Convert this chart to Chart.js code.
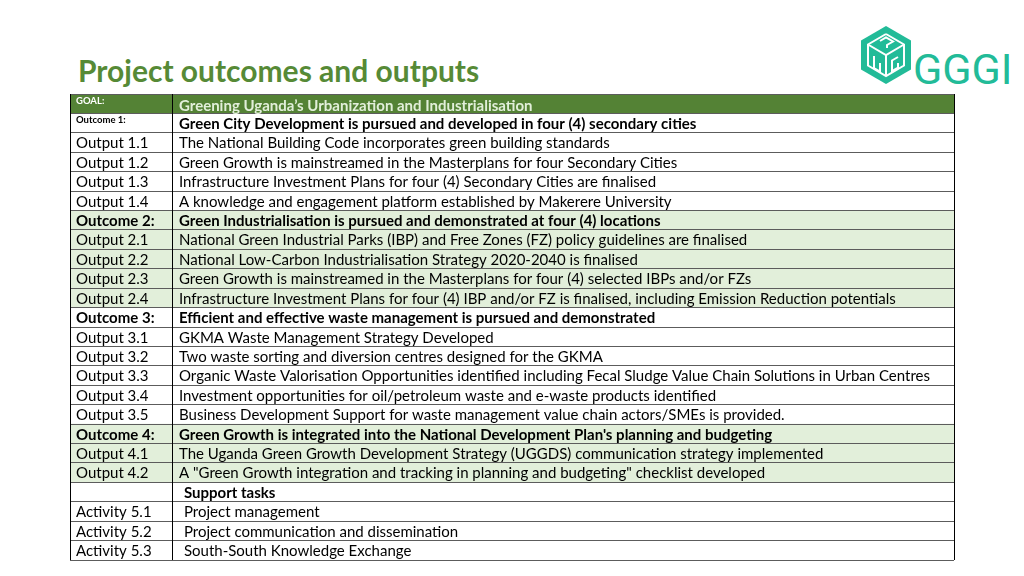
<!DOCTYPE html>
<html>
<head>
<meta charset="utf-8">
<script src="https://cdn.jsdelivr.net/npm/chart.js@4.4.1/dist/chart.umd.min.js"></script>
<style>
  html, body { margin: 0; padding: 0; background: #fff; }
  body { width: 1024px; height: 576px; position: relative; overflow: hidden; font-family: Lato, sans-serif; }
  #title { position: absolute; left: 78px; top: 52px; margin: 0; font: bold 30px Lato, sans-serif; color: #568a36; }
  #logo { position: absolute; left: 850px; top: 20px; }
  #chart { position: absolute; left: 0; top: 0; }
</style>
</head>
<body>
<h1 id="title">Project outcomes and outputs</h1>
<svg id="logo" width="174" height="80" viewBox="850 20 174 80">
  <polygon points="886,26 911,40.5 911,69.5 886,84 861,69.5 861,40.5" fill="#22bb98"/>
  <g stroke="#fff" stroke-width="2" fill="none" stroke-linejoin="miter">
    <polyline points="886,34 904,44.5 904,65.5 886,76 868,65.5 868,44.5 886,34"/>
    <polyline points="868,44.5 886,55 904,44.5"/>
    <line x1="886" y1="55" x2="886" y2="76"/>
    <polyline points="880,41 886,37.5 893,41.5 887,45 887,48"/>
    <polyline points="874,56 874,68 880,71.5 880,63"/>
    <polyline points="898,57 892,60.5 892,71 898,67.5 898,63"/>
  </g>
  <text x="913" y="84" font-family="Roboto, sans-serif" font-size="43" font-weight="400" fill="#22bb98">GGGI</text>
</svg>
<canvas id="chart" width="1024" height="576"></canvas>
<script>
/* Row data */
const rowCodes = [
  'GOAL:', 'Outcome 1:', 'Output 1.1', 'Output 1.2', 'Output 1.3', 'Output 1.4',
  'Outcome 2:', 'Output 2.1', 'Output 2.2', 'Output 2.3', 'Output 2.4',
  'Outcome 3:', 'Output 3.1', 'Output 3.2', 'Output 3.3', 'Output 3.4', 'Output 3.5',
  'Outcome 4:', 'Output 4.1', 'Output 4.2',
  '', 'Activity 5.1', 'Activity 5.2', 'Activity 5.3'
];
const rowTexts = [
  'Greening Uganda\u2019s Urbanization and Industrialisation',
  'Green City Development is pursued and developed in four (4) secondary cities',
  'The National Building Code incorporates green building standards',
  'Green Growth is mainstreamed in the Masterplans for four Secondary Cities',
  'Infrastructure Investment Plans for four (4) Secondary Cities are finalised',
  'A knowledge and engagement platform established by Makerere University',
  'Green Industrialisation is pursued and demonstrated at four (4) locations',
  'National Green Industrial Parks (IBP) and Free Zones (FZ) policy guidelines are finalised',
  'National Low-Carbon Industrialisation Strategy 2020-2040 is finalised',
  'Green Growth is mainstreamed in the Masterplans for four (4) selected IBPs and/or FZs',
  'Infrastructure Investment Plans for four (4) IBP and/or FZ is finalised, including Emission Reduction potentials',
  'Efficient and effective waste management is pursued and demonstrated',
  'GKMA Waste Management Strategy Developed',
  'Two waste sorting and diversion centres designed for the GKMA',
  'Organic Waste Valorisation Opportunities identified including Fecal Sludge Value Chain Solutions in Urban Centres',
  'Investment opportunities for oil/petroleum waste and e-waste products identified',
  'Business Development Support for waste management value chain actors/SMEs is provided.',
  'Green Growth is integrated into the National Development Plan\'s planning and budgeting',
  'The Uganda Green Growth Development Strategy (UGGDS) communication strategy implemented',
  'A "Green Growth integration and tracking in planning and budgeting" checklist developed',
  'Support tasks', 'Project management', 'Project communication and dissemination', 'South-South Knowledge Exchange'
];
const rowKinds = [
  'goal', 'lead', 'item', 'item', 'item', 'item',
  'outcome', 'item', 'item', 'item', 'item',
  'outcome', 'item', 'item', 'item', 'item', 'item',
  'outcome', 'item', 'item',
  'support', 'activity', 'activity', 'activity'
];
const rowShades = [
  'dark', 'none', 'none', 'none', 'none', 'none',
  'light', 'light', 'light', 'light', 'light',
  'none', 'none', 'none', 'none', 'none', 'none',
  'light', 'light', 'light',
  'none', 'none', 'none', 'none'
];

/* Styles */
const shadeColor = { dark: '#548235', light: '#e2efda', none: '#ffffff' };
const FONT = 'Lato, "Open Sans", sans-serif';
const kindStyle = {
  goal:     { codeFont: 'bold 9.5px ' + FONT, codeColor: '#ffffff', codeTop: true, textFont: 'bold 15px ' + FONT, textColor: '#e2efda', indent: 0 },
  lead:     { codeFont: 'bold 9.5px ' + FONT, codeColor: '#000000', codeTop: true, textFont: 'bold 15px ' + FONT, textColor: '#000000', indent: 0 },
  outcome:  { codeFont: 'bold 15px ' + FONT, codeColor: '#000000', textFont: 'bold 15px ' + FONT, textColor: '#000000', indent: 0 },
  item:     { codeFont: '15px ' + FONT, codeColor: '#000000', textFont: '15px ' + FONT, textColor: '#000000', indent: 0 },
  support:  { codeFont: '15px ' + FONT, codeColor: '#000000', textFont: 'bold 15px ' + FONT, textColor: '#000000', indent: 5 },
  activity: { codeFont: '15px ' + FONT, codeColor: '#000000', textFont: '15px ' + FONT, textColor: '#000000', indent: 5 }
};
const COL_SPLIT = 0.1165; // share of the table width taken by the code column

/* Cell text */
const cellText = {
  id: 'cellText',
  afterDraw(chart) {
    const { ctx, scales: { x, y } } = chart;
    const x1 = x.getPixelForValue(0) + 6;
    const x2 = x.getPixelForValue(COL_SPLIT) + 6;
    const rowH = y.getPixelForValue(1) - y.getPixelForValue(0);
    ctx.save();
    ctx.textAlign = 'left';
    rowCodes.forEach((code, i) => {
      const st = kindStyle[rowKinds[i]];
      const yc = y.getPixelForValue(i);
      ctx.fillStyle = st.codeColor;
      ctx.font = st.codeFont;
      if (st.codeTop) {
        ctx.textBaseline = 'top';
        ctx.fillText(code, x1, yc - rowH / 2 + 2);
      } else {
        ctx.textBaseline = 'middle';
        ctx.fillText(code, x1, yc + 1);
      }
      ctx.textBaseline = 'middle';
      ctx.fillStyle = st.textColor;
      ctx.font = st.textFont;
      ctx.fillText(rowTexts[i], x2 + st.indent, yc + (rowKinds[i] === 'goal' ? 2 : 1));
    });
    ctx.restore();
  }
};

new Chart(document.getElementById('chart'), {
  type: 'bar',
  data: {
    labels: rowCodes,
    datasets: [{
      data: rowShades.map(s => (s === 'none' ? null : [0, 1])),
      backgroundColor: rowShades.map(s => shadeColor[s]),
      barPercentage: 1,
      categoryPercentage: 1,
      borderWidth: 0
    }]
  },
  options: {
    indexAxis: 'y',
    responsive: false,
    animation: false,
    events: [],
    layout: { padding: { left: 70, top: 94, right: 70, bottom: 16 } },
    plugins: { legend: { display: false }, tooltip: { enabled: false } },
    scales: {
      x: {
        type: 'linear',
        min: 0,
        max: 1,
        afterBuildTicks: s => { s.ticks = [{ value: 0 }, { value: COL_SPLIT }, { value: 1 }]; },
        ticks: { display: false },
        grid: { color: '#000000', lineWidth: 1, drawTicks: false, z: 2 },
        border: { display: false }
      },
      y: {
        ticks: { display: false },
        grid: { offset: true, color: '#5c5c5c', lineWidth: 1, drawTicks: false, z: 1 },
        border: { display: false }
      }
    }
  },
  plugins: [cellText]
});
</script>
</body>
</html>
